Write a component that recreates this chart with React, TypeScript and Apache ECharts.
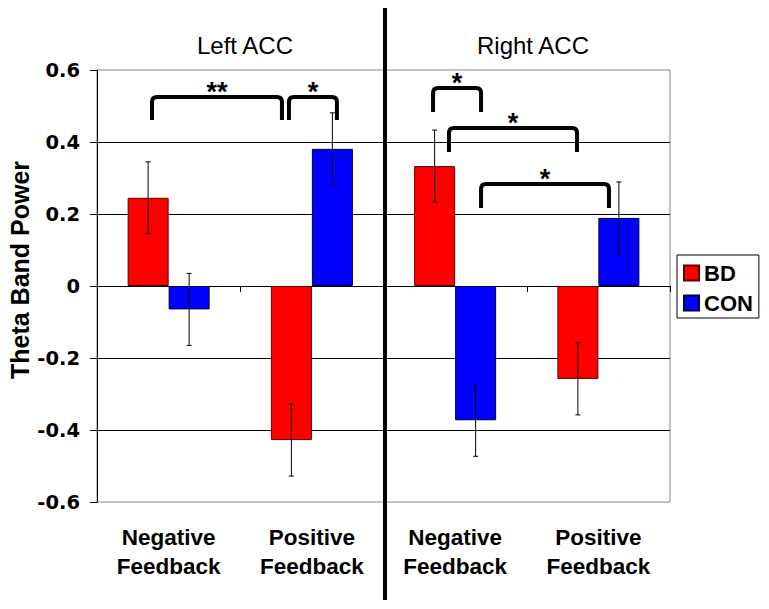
import React, { useEffect, useRef } from "react";
import * as echarts from "echarts";

// ---- data ----
const regions = ["Left ACC", "Right ACC"];
const conditionLabels = ["Negative\nFeedback", "Positive\nFeedback", "Negative\nFeedback", "Positive\nFeedback"];
const categories = ["Left Negative", "Left Positive", "Right Negative", "Right Positive"];
const seriesNames = ["BD", "CON"];
const bdValues = [0.245, -0.428, 0.333, -0.258];
const conValues = [-0.065, 0.381, -0.373, 0.189];
const bdErrors = [0.1, 0.1, 0.1, 0.1];
const conErrors = [0.1, 0.1, 0.1, 0.1];
const yMin = -0.6;
const yMax = 0.6;
const yStep = 0.2;

// significance brackets (x in category units 0..4, y in data units)
const bracketStart = [0.384, 1.34, 2.346, 2.457, 2.681];
const bracketEnd = [1.291, 1.675, 2.681, 3.351, 3.574];
const bracketTop = [0.525, 0.525, 0.55, 0.439, 0.283];
const bracketLeg = [0.461, 0.461, 0.483, 0.372, 0.217];
const bracketLabels = ["**", "*", "*", "*", "*"];

const BAR_W = 41;
const SANS = "'Liberation Sans', Arial, sans-serif";

function errorRenderer(offset: number) {
  return (params: any, api: any) => {
    const x = api.value(0);
    const v = api.value(1);
    const e = api.value(2);
    const top = api.coord([x, v + e]);
    const bot = api.coord([x, v - e]);
    const cx = top[0] + offset;
    const cap = 2.5;
    const st = { stroke: "#000", lineWidth: 1 };
    return {
      type: "group",
      children: [
        { type: "line", shape: { x1: cx, y1: top[1], x2: cx, y2: bot[1] }, style: st },
        { type: "line", shape: { x1: cx - cap, y1: top[1], x2: cx + cap, y2: top[1] }, style: st },
        { type: "line", shape: { x1: cx - cap, y1: bot[1], x2: cx + cap, y2: bot[1] }, style: st },
      ],
    };
  };
}

function bracketRenderer(params: any, api: any) {
  const p1 = api.coord([api.value(0), api.value(2)]);
  const p2 = api.coord([api.value(1), api.value(3)]);
  const x1 = p1[0], x2 = p2[0], yt = p1[1], yb = p2[1];
  const r = 5;
  const d = `M${x1},${yb} L${x1},${yt + r} Q${x1},${yt} ${x1 + r},${yt} L${x2 - r},${yt} Q${x2},${yt} ${x2},${yt + r} L${x2},${yb}`;
  return {
    type: "group",
    children: [
      { type: "path", shape: { pathData: d }, style: { stroke: "#000", lineWidth: 4, fill: "none" } },
      {
        type: "text",
        style: {
          text: bracketLabels[params.dataIndex],
          x: (x1 + x2) / 2,
          y: yt - 5,
          align: "center",
          verticalAlign: "middle",
          textAlign: "center",
          textVerticalAlign: "middle",
          fontSize: 27,
          fontWeight: "bold",
          fontFamily: SANS,
          fill: "#000",
        },
      },
    ],
  };
}

export default function App() {
  const ref = useRef<HTMLDivElement>(null);
  useEffect(() => {
    if (!ref.current) return;
    const chart = echarts.init(ref.current, null, { renderer: "svg" });
    const titleX = [245, 533];
    const option: any = {
      animation: false,
      backgroundColor: "#fff",
      grid: {
        left: 97,
        top: 70,
        right: 99,
        bottom: 107,
        show: true,
        borderColor: "#888",
        borderWidth: 1,
        backgroundColor: "transparent",
      },
      legend: {
        data: seriesNames,
        orient: "vertical",
        left: 677,
        top: 255,
        backgroundColor: "#fff",
        borderColor: "#000",
        borderWidth: 1,
        borderRadius: 0,
        padding: [6, 6, 3, 6],
        itemWidth: 15,
        itemHeight: 15,
        itemGap: 6,
        icon: "rect",
        textStyle: { fontFamily: SANS, fontWeight: "bold", fontSize: 22, color: "#000", lineHeight: 24 },
      },
      xAxis: [
        {
          type: "category",
          position: "top",
          data: categories,
          axisLine: { onZero: true, lineStyle: { color: "#000", width: 1 } },
          axisTick: { show: true, inside: true, length: 6, lineStyle: { color: "#000" } },
          axisLabel: { show: false },
          splitLine: { show: false },
        },
        {
          type: "category",
          position: "bottom",
          data: categories,
          axisLine: { show: false, onZero: false },
          axisTick: { show: false },
          splitLine: { show: false },
          axisLabel: {
            margin: 21,
            interval: 0,
            fontFamily: SANS,
            fontWeight: "bold",
            fontSize: 22.5,
            lineHeight: 29,
            color: "#000",
            formatter: (_v: string, i: number) => conditionLabels[i],
          },
        },
        { type: "value", position: "top", min: 0, max: 4, show: false },
      ],
      yAxis: {
        type: "value",
        min: yMin,
        max: yMax,
        interval: yStep,
        axisLine: { show: true, onZero: false, lineStyle: { color: "#000", width: 1 } },
        axisTick: { show: true, length: 7, lineStyle: { color: "#000" } },
        axisLabel: {
          margin: 17,
          fontFamily: "'DejaVu Sans', sans-serif",
          fontWeight: "bold",
          fontSize: 19.5,
          color: "#000",
          formatter: (v: number) => (Math.abs(v) < 1e-9 ? "0" : v.toFixed(1)),
        },
        splitLine: { show: true, showMinLine: false, showMaxLine: false, lineStyle: { color: "#000", width: 1 } },
      },
      series: [
        {
          name: seriesNames[0],
          type: "bar",
          data: bdValues,
          barWidth: BAR_W,
          barGap: "0%",
          itemStyle: { color: "#ff0000", borderColor: "#5a0000", borderWidth: 1 },
        },
        {
          name: seriesNames[1],
          type: "bar",
          data: conValues,
          barWidth: BAR_W,
          barGap: "0%",
          itemStyle: { color: "#0000ff", borderColor: "#000030", borderWidth: 1 },
        },
        {
          name: "BD error",
          type: "custom",
          renderItem: errorRenderer(-BAR_W / 2),
          data: bdValues.map((v, i) => [i, v, bdErrors[i]]),
          z: 5,
          silent: true,
        },
        {
          name: "CON error",
          type: "custom",
          renderItem: errorRenderer(BAR_W / 2),
          data: conValues.map((v, i) => [i, v, conErrors[i]]),
          z: 5,
          silent: true,
        },
        {
          name: "brackets",
          type: "custom",
          xAxisIndex: 2,
          renderItem: bracketRenderer,
          data: bracketStart.map((s, i) => [s, bracketEnd[i], bracketTop[i], bracketLeg[i]]),
          z: 6,
          silent: true,
        },
      ],
      graphic: [
        {
          type: "line",
          shape: { x1: 385, y1: 8, x2: 385, y2: 600 },
          style: { stroke: "#000", lineWidth: 4 },
          z: 100,
        },
        {
          type: "text",
          x: 20,
          y: 270,
          rotation: Math.PI / 2,
          style: {
            text: "Theta Band Power",
            textAlign: "center",
            textVerticalAlign: "middle",
            align: "center",
            verticalAlign: "middle",
            fontFamily: SANS,
            fontWeight: "bold",
            fontSize: 25,
            fill: "#000",
          },
        },
        ...regions.map((r, i) => ({
          type: "text",
          x: titleX[i],
          y: 45,
          style: {
            text: r,
            textAlign: "center",
            textVerticalAlign: "middle",
            align: "center",
            verticalAlign: "middle",
            fontFamily: SANS,
            fontSize: 24,
            fill: "#000",
          },
        })),
      ],
    };
    chart.setOption(option);
    return () => chart.dispose();
  }, []);
  return (
    <div
      ref={ref}
      style={{ position: "fixed", left: 0, top: 0, width: 769, height: 609, background: "#fff" }}
    />
  );
}
